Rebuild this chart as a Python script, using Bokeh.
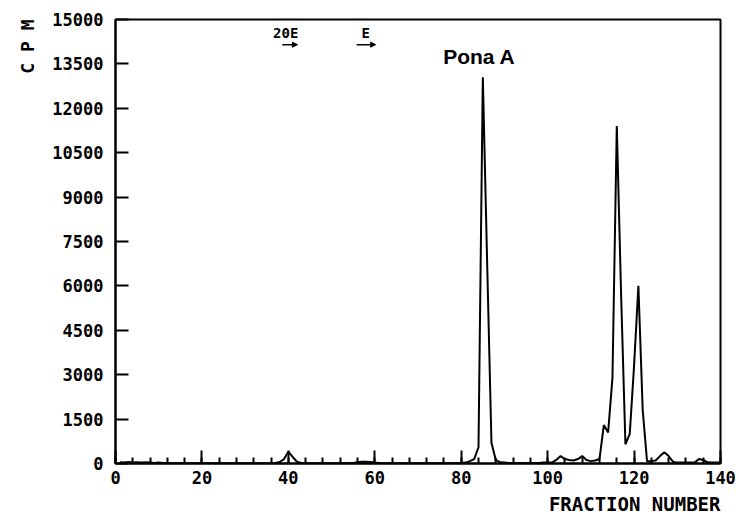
import math
from bokeh.plotting import figure
from bokeh.models import (ColumnDataSource, SingleIntervalTicker, Label, Arrow,
                          NormalHead, Range1d, Title)
from bokeh.core.properties import value
from bokeh.embed import file_html
from bokeh.resources import INLINE

# Radioactivity (CPM) per HPLC fraction
fraction = list(range(1, 141))
cpm = [
    40, 30, 50, 30, 40, 30, 40, 30, 20, 30,           # 1-10
    20, 20, 10, 10, 10, 10, 10, 10, 10, 10,           # 11-20
    10, 10, 10, 10, 10, 10, 10, 10, 10, 10,           # 21-30
    10, 10, 10, 10, 10, 10, 20, 50, 150, 400,         # 31-40
    220, 60, 20, 10, 10, 10, 10, 10, 10, 10,          # 41-50
    10, 10, 10, 20, 20, 40, 60, 60, 50, 30,           # 51-60
    20, 10, 10, 10, 10, 10, 10, 10, 10, 10,           # 61-70
    10, 10, 10, 10, 10, 10, 10, 10, 20, 20,           # 71-80
    30, 80, 150, 550, 13050, 6800, 700, 120, 40, 30,  # 81-90
    20, 20, 20, 20, 20, 20, 20, 20, 30, 30,           # 91-100
    30, 120, 250, 150, 120, 100, 150, 250, 120, 80,   # 101-110
    100, 150, 1300, 1050, 2900, 11400, 5700, 650, 1000, 3300,  # 111-120
    6000, 1800, 80, 80, 100, 250, 380, 250, 60, 30,   # 121-130
    30, 30, 30, 30, 150, 120, 40, 30, 30, 30,         # 131-140
]

# Elution positions of the reference standards
std_names = ["20E", "E"]
std_label_x = [39.4, 57.9]
std_arrow_start = [38.6, 55.8]
std_arrow_end = [42.1, 60.2]
std_label_y = 14550
std_arrow_y = 14150

peak_name = "Pona A"
peak_label_x = 84.2
peak_label_y = 13750

x_title = "FRACTION NUMBER"
y_title = "C P M"

mono = "DejaVu Sans Mono"

p = figure(width=739, height=520, output_backend="svg", toolbar_location=None,
           x_range=Range1d(0, 140), y_range=Range1d(0, 15000),
           min_border_left=115, min_border_right=19,
           min_border_top=19, min_border_bottom=57)
p.background_fill_color = "white"
p.border_fill_color = "white"
p.grid.visible = False
p.outline_line_color = "black"
p.outline_line_width = 2

src = ColumnDataSource(dict(x=fraction, y=cpm))
p.line("x", "y", source=src, line_color="black", line_width=2)

# axes
xa = p.xaxis[0]
xa.ticker = SingleIntervalTicker(interval=20, num_minor_ticks=5)
xa.major_tick_in = 13
xa.major_tick_out = 0
xa.minor_tick_in = 6
xa.minor_tick_out = 0
xa.major_label_standoff = 7
ya = p.yaxis[0]
ya.ticker = SingleIntervalTicker(interval=1500, num_minor_ticks=0)
ya.major_tick_in = 13
ya.major_tick_out = 0
ya.major_label_standoff = 12
for ax in (xa, ya):
    ax.axis_line_width = 2
    ax.axis_line_color = "black"
    ax.major_tick_line_width = 2
    ax.minor_tick_line_width = 2
    ax.major_tick_line_color = "black"
    ax.minor_tick_line_color = "black" if ax is xa else None
    ax.major_label_text_font = mono
    ax.major_label_text_font_style = "bold"
    ax.major_label_text_font_size = "17px"
    ax.major_label_text_color = "black"

# axis titles, set at the far ends of the axes
p.add_layout(Title(text=x_title, align="right", text_font=mono,
                   text_font_style="bold", text_font_size="19px",
                   text_color="black", standoff=9), "below")
p.add_layout(Title(text=y_title, align="right", text_font=mono,
                   text_font_style="bold", text_font_size="18px",
                   text_color="black", standoff=24), "left")

# standards
std_src = ColumnDataSource(dict(name=std_names, lx=std_label_x,
                                x0=std_arrow_start, x1=std_arrow_end,
                                ly=[std_label_y] * 2, ay=[std_arrow_y] * 2))
p.text("lx", "ly", text="name", source=std_src, text_font=value(mono),
       text_font_style="bold", text_font_size="14px", text_align="center",
       text_baseline="alphabetic", text_color="black")
p.add_layout(Arrow(source=std_src, x_start="x0", y_start="ay", x_end="x1",
                   y_end="ay", line_width=1.5, line_color="black",
                   end=NormalHead(size=5, fill_color="black",
                                  line_color="black")))

p.add_layout(Label(x=peak_label_x, y=peak_label_y, text=peak_name,
                   text_font="Liberation Sans", text_font_style="bold",
                   text_font_size="21px", text_align="center",
                   text_baseline="alphabetic", text_color="black"))

open("out.html", "w").write(file_html(p, INLINE))
